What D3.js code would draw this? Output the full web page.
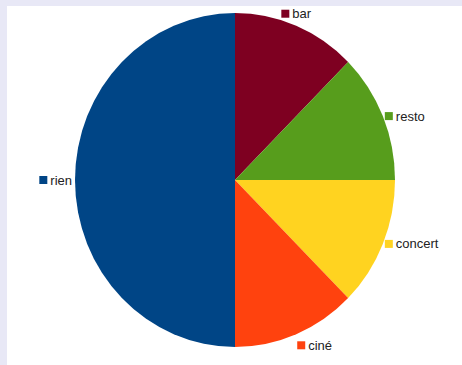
<!DOCTYPE html>
<html>
<head>
<meta charset="utf-8">
<script src="https://cdn.jsdelivr.net/npm/d3@7"></script>
<style>
  body { margin: 0; background: #e8e8f6; }
  svg { display: block; }
</style>
</head>
<body>
<svg id="chart" width="462" height="365"></svg>
<script>
  const categories = ["bar", "resto", "concert", "ciné", "rien"];
  const values = [1, 1, 1, 1, 4];
  const colors = ["#7e0021", "#579d1c", "#ffd320", "#ff420e", "#004586"];

  const svg = d3.select("#chart");
  const cx = 235, cy = 180;
  const rx = 160, ry = 167; // pie is slightly stretched vertically

  // white plot area, lavender strip on top and left
  svg.append("rect").attr("width", 462).attr("height", 365).attr("fill", "#e8e8f6");
  svg.append("rect").attr("x", 7).attr("y", 6).attr("width", 455).attr("height", 359).attr("fill", "#fff");

  const pie = d3.pie().sort(null).value(d => d)(values);
  const arc = d3.arc().innerRadius(0).outerRadius(rx);

  const g = svg.append("g")
      .attr("transform", `translate(${cx},${cy}) scale(1,${ry / rx})`);

  g.selectAll("path")
      .data(pie)
      .enter()
      .append("path")
      .attr("d", arc)
      .attr("fill", (d, i) => colors[i]);

  // labels with a small colour key, placed off the slice edge
  const labels = svg.append("g")
      .style("font-family", "'Liberation Sans', Arial, sans-serif")
      .style("font-size", "13px");

  pie.forEach((d, i) => {
      const a = (d.startAngle + d.endAngle) / 2;
      const px = cx + rx * Math.sin(a);
      const py = cy - ry * Math.cos(a);
      const lg = labels.append("g");
      const t = lg.append("text")
          .attr("x", 11)
          .attr("y", 4.5)
          .attr("fill", "#222")
          .text(categories[i]);
      const w = 11 + t.node().getComputedTextLength();
      lg.insert("rect", "text")
          .attr("x", 0).attr("y", -4)
          .attr("width", 8).attr("height", 8)
          .attr("fill", colors[i]);

      let x0, y0;
      const s = Math.sin(a), c = Math.cos(a);
      if (c > 0.85) {            // near the top: centred above
          x0 = px - w / 2; y0 = py - 12;
      } else if (c < -0.85) {    // near the bottom: start below
          x0 = px + 1; y0 = py + 11;
      } else if (s > 0) {        // right side
          x0 = px + 2; y0 = py;
      } else {                   // left side
          x0 = px - w - 3; y0 = py;
      }
      lg.attr("transform", `translate(${x0},${y0})`);
  });
</script>
</body>
</html>
